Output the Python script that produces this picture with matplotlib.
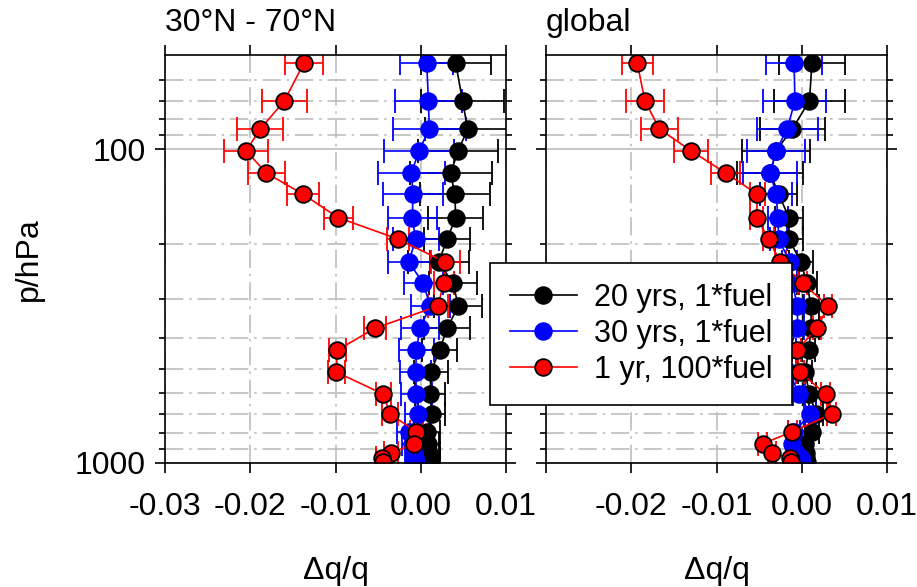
import matplotlib.pyplot as plt
from matplotlib.lines import Line2D
from matplotlib.ticker import NullFormatter

plt.rcParams['font.family'] = ['Liberation Sans', 'DejaVu Sans']

# pressure levels (hPa)
p_levels = [53, 70, 86, 101, 119, 139, 165, 193, 229, 267, 316, 372, 437, 513,
            603, 698, 795, 868, 932, 967, 995]

# 30N - 70N
nh_20yr = [0.0041, 0.0049, 0.0055, 0.0044, 0.0035, 0.0040, 0.0041, 0.0031, 0.0021, 0.0038, 0.0044,
           0.0031, 0.0022, 0.0012, 0.0011, 0.0013, 0.0007, 0.0008, 0.0010, 0.0011, 0.0012]
nh_20yr_err = [0.0041, 0.0049, 0.0050, 0.0047, 0.0048, 0.0041, 0.0032, 0.0027, 0.0036, 0.0028, 0.0028,
               0.0027, 0.0020, 0.0020, 0.0018, 0.0016, 0.0015, 0.0013, 0.0012, 0.0011, 0.0010]
nh_30yr = [0.0007, 0.0009, 0.0010, -0.0002, -0.0011, -0.0009, -0.0010, -0.0006, -0.0014, 0.0003, 0.0011,
           -0.0001, -0.0005, -0.0006, -0.0005, -0.0003, -0.0014, -0.0010, -0.0008, -0.0007, -0.0006]
nh_30yr_err = [0.0031, 0.0039, 0.0043, 0.0041, 0.0039, 0.0035, 0.0029, 0.0027, 0.0025, 0.0023, 0.0023,
               0.0022, 0.0020, 0.0018, 0.0018, 0.0015, 0.0014, 0.0012, 0.0011, 0.0010, 0.0010]
nh_1yr = [-0.0137, -0.0160, -0.0188, -0.0205, -0.0181, -0.0138, -0.0097, -0.0027, 0.0029, 0.0027, 0.0020,
          -0.0054, -0.0098, -0.0099, -0.0044, -0.0036, -0.0005, -0.0008, -0.0035, -0.0045, -0.0044]
nh_1yr_err = [0.0022, 0.0026, 0.0027, 0.0026, 0.0022, 0.0019, 0.0017, 0.0013, 0.0017, 0.0012, 0.0012,
              0.0013, 0.0010, 0.0010, 0.0009, 0.0009, 0.0008, 0.0008, 0.0008, 0.0008, 0.0008]

# global
gl_20yr = [0.0012, 0.0009, -0.0011, -0.0030, -0.0037, -0.0027, -0.0015, -0.0015, -0.0001, 0.0006, 0.0011,
           0.0011, 0.0008, 0.0004, 0.0009, 0.0017, 0.0012, 0.0004, 0.0005, 0.0005, 0.0006]
gl_20yr_err = [0.0039, 0.0042, 0.0038, 0.0040, 0.0039, 0.0022, 0.0016, 0.0016, 0.0014, 0.0012, 0.0009,
               0.0009, 0.0008, 0.0008, 0.0008, 0.0008, 0.0008, 0.0007, 0.0007, 0.0007, 0.0007]
gl_30yr = [-0.0009, -0.0008, -0.0017, -0.0030, -0.0037, -0.0030, -0.0028, -0.0027, -0.0014, -0.0011, -0.0005,
           -0.0005, -0.0015, -0.0015, -0.0003, 0.0010, -0.0009, -0.0011, -0.0007, -0.0001, 0.0000]
gl_30yr_err = [0.0033, 0.0037, 0.0036, 0.0034, 0.0032, 0.0019, 0.0012, 0.0010, 0.0009, 0.0008, 0.0008,
               0.0008, 0.0008, 0.0008, 0.0007, 0.0007, 0.0007, 0.0006, 0.0006, 0.0006, 0.0006]
gl_1yr = [-0.0193, -0.0184, -0.0167, -0.0130, -0.0089, -0.0052, -0.0053, -0.0039, -0.0025, 0.0001, 0.0031,
          0.0018, -0.0006, -0.0002, 0.0028, 0.0035, -0.0011, -0.0046, -0.0035, -0.0014, -0.0013]
gl_1yr_err = [0.0018, 0.0022, 0.0022, 0.0020, 0.0017, 0.0009, 0.0008, 0.0007, 0.0006, 0.0005, 0.0005,
              0.0005, 0.0005, 0.0005, 0.0005, 0.0005, 0.0005, 0.0005, 0.0005, 0.0005, 0.0005]

titles = ['30°N - 70°N', 'global']
labels = ['20 yrs, 1*fuel', '30 yrs, 1*fuel', '1 yr, 100*fuel']
colors = ['black', 'blue', 'red']
x_ticks = [-0.03, -0.02, -0.01, 0.00, 0.01]

panels = [
    [(nh_20yr, nh_20yr_err), (nh_30yr, nh_30yr_err), (nh_1yr, nh_1yr_err)],
    [(gl_20yr, gl_20yr_err), (gl_30yr, gl_30yr_err), (gl_1yr, gl_1yr_err)],
]

fig = plt.figure(figsize=(9.17, 5.87), dpi=100)
ax_left = fig.add_axes([165 / 917, 124 / 587, 341 / 917, 408 / 587])
ax_right = fig.add_axes([546 / 917, 124 / 587, 341 / 917, 408 / 587])

grid_dash = (0, (11, 3.5, 1.5, 3.5))
grid_col = '#bdbdbd'

for i, ax in enumerate([ax_left, ax_right]):
    for (vals, errs), c in zip(panels[i], colors):
        mec = 'black' if c == 'red' else c
        ax.errorbar(vals, p_levels, xerr=errs, fmt='-o', color=c, ecolor=c,
                    markersize=12, markerfacecolor=c, markeredgecolor=mec,
                    markeredgewidth=1.3, linewidth=1.2, elinewidth=1.2,
                    capsize=8.5, capthick=1.5)

    ax.set_yscale('log')
    ax.set_ylim(1000, 50)
    ax.set_xlim(-0.03, 0.01)
    ax.set_yticks([100, 1000])
    ax.set_yticks([60, 70, 80, 90, 200, 300, 400, 500, 600, 700, 800, 900], minor=True)
    ax.yaxis.set_minor_formatter(NullFormatter())
    ax.set_xticks(x_ticks)
    if i == 0:
        ax.set_xticklabels(['%.2f' % t for t in x_ticks])
        ax.set_yticklabels(['100', '1000'])
        ax.set_ylabel('p/hPa', fontsize=23, labelpad=22)
    else:
        ax.set_xticklabels([''] + ['%.2f' % t for t in x_ticks[1:]])
        ax.set_yticklabels([])

    ax.set_axisbelow(True)
    ax.grid(True, which='major', axis='y', color=grid_col, linestyle='-', linewidth=1.2)
    ax.grid(True, which='minor', axis='y', color=grid_col, linestyle=grid_dash, linewidth=1.2)
    ax.grid(True, which='major', axis='x', color=grid_col, linestyle=grid_dash, linewidth=1.2)

    ax.tick_params(which='both', direction='out', top=True, right=True, width=1.2, labelsize=23)
    ax.tick_params(which='major', length=7)
    ax.tick_params(which='minor', length=4)
    ax.tick_params(axis='x', pad=14)
    ax.tick_params(axis='y', pad=7)
    for s in ax.spines.values():
        s.set_linewidth(1.2)

    ax.set_xlabel('Δq/q', fontsize=23, labelpad=24)
    ax.set_title(titles[i], loc='left', fontsize=23, pad=17)

handles = [Line2D([], [], color=c, marker='o', markersize=12, markerfacecolor=c,
                  markeredgecolor='black' if c == 'red' else c, markeredgewidth=1.3,
                  linewidth=1.2) for c in colors]
leg = fig.legend(handles, labels, loc='upper left', bbox_to_anchor=(490 / 917, 1 - 263 / 587),
                 borderaxespad=0, fancybox=False, framealpha=1, edgecolor='black',
                 fontsize=22, handlelength=2.2, handletextpad=0.55, labelspacing=0.2,
                 borderpad=0.65)
leg.set_zorder(10)
leg.get_frame().set_linewidth(1.2)

fig.savefig('out.png', dpi=100)
